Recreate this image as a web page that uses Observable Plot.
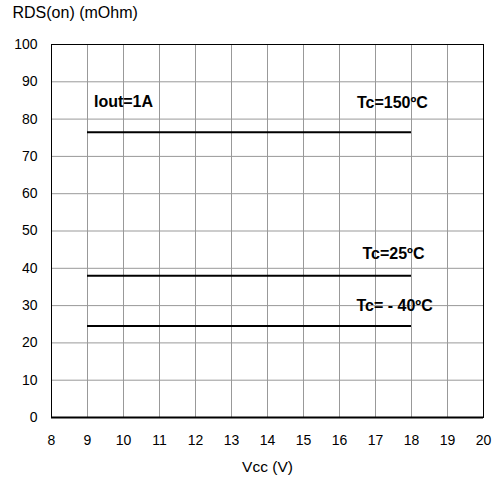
<!DOCTYPE html>
<html>
<head>
<meta charset="utf-8">
<script src="https://cdn.jsdelivr.net/npm/d3@7"></script>
<script src="https://cdn.jsdelivr.net/npm/@observablehq/plot@0.6"></script>
<style>
  html, body { margin: 0; padding: 0; background: #fff; }
  #chart { width: 499px; height: 480px; }
  svg { font-family: "Liberation Sans", Arial, sans-serif; }
</style>
</head>
<body>
<div id="chart"></div>
<script>
// Data
const seriesNames = ["Tc=150ºC", "Tc=25ºC", "Tc= - 40ºC"];
const vccStart = [9, 9, 9];
const vccEnd = [18, 18, 18];
const rdsValues = [76.5, 38, 24.5];

// Annotation labels (positions in data units)
const labelTexts = ["Iout=1A", "Tc=150ºC", "Tc=25ºC", "Tc= - 40ºC"];
const labelX = [10.0, 17.47, 17.5, 17.53];
const labelY = [84.5, 84.3, 44.0, 30.0];

const xTicks = [8, 9, 10, 11, 12, 13, 14, 15, 16, 17, 18, 19, 20];
const yTicks = [0, 10, 20, 30, 40, 50, 60, 70, 80, 90, 100];
const yTitle = "RDS(on) (mOhm)";
const xTitle = "Vcc (V)";

const segments = seriesNames.map((name, i) => ({
  name, x1: vccStart[i], x2: vccEnd[i], y: rdsValues[i]
}));
const labels = labelTexts.map((t, i) => ({ t, x: labelX[i], y: labelY[i] }));

const chart = Plot.plot({
  width: 499,
  height: 480,
  marginLeft: 51,
  marginRight: 16,
  marginTop: 44,
  marginBottom: 63,
  style: { fontFamily: "'Liberation Sans', Arial, sans-serif", fontSize: "14px", color: "#000", background: "#fff" },
  x: { domain: [8, 20], ticks: xTicks, tickSize: 0, tickPadding: 18, label: null },
  y: { domain: [0, 100], ticks: yTicks, tickSize: 0, tickPadding: 14, label: null },
  marks: [
    Plot.gridX(xTicks, { stroke: "#999", strokeOpacity: 1, strokeWidth: 1 }),
    Plot.gridY(yTicks, { stroke: "#999", strokeOpacity: 1, strokeWidth: 1 }),
    Plot.text(labels, { x: "x", y: "y", text: "t", fontWeight: "bold", fontSize: 16, fill: "#000", ariaLabel: "annot" }),
    Plot.ruleY(segments, { y: "y", x1: "x1", x2: "x2", stroke: "#000", strokeWidth: 2 }),
    Plot.frame({ stroke: "#000", strokeWidth: 1 }),
    Plot.ruleY([0], { stroke: "#000", strokeWidth: 2 }),
    Plot.text([yTitle], { frameAnchor: "top-left", dx: -39, dy: -38, fontSize: 16, textAnchor: "start", lineAnchor: "top", fill: "#000" }),
    Plot.text([xTitle], { frameAnchor: "bottom", dy: 50, fontSize: 15.5, lineAnchor: "middle", fill: "#000" })
  ]
});
document.getElementById("chart").appendChild(chart);

// white boxes behind the annotation labels (sized from the rendered text)
const g = chart.querySelector('g[aria-label="annot"]');
if (g) {
  const padX = 9, padY = 8;
  g.querySelectorAll("text").forEach(t => {
    const b = t.getBBox();
    const r = document.createElementNS("http://www.w3.org/2000/svg", "rect");
    r.setAttribute("x", b.x - padX);
    r.setAttribute("y", b.y - padY);
    r.setAttribute("width", b.width + 2 * padX);
    r.setAttribute("height", b.height + 2 * padY);
    r.setAttribute("fill", "white");
    const tr = t.getAttribute("transform");
    if (tr) r.setAttribute("transform", tr);
    g.insertBefore(r, g.firstChild);
  });
}
</script>
</body>
</html>
